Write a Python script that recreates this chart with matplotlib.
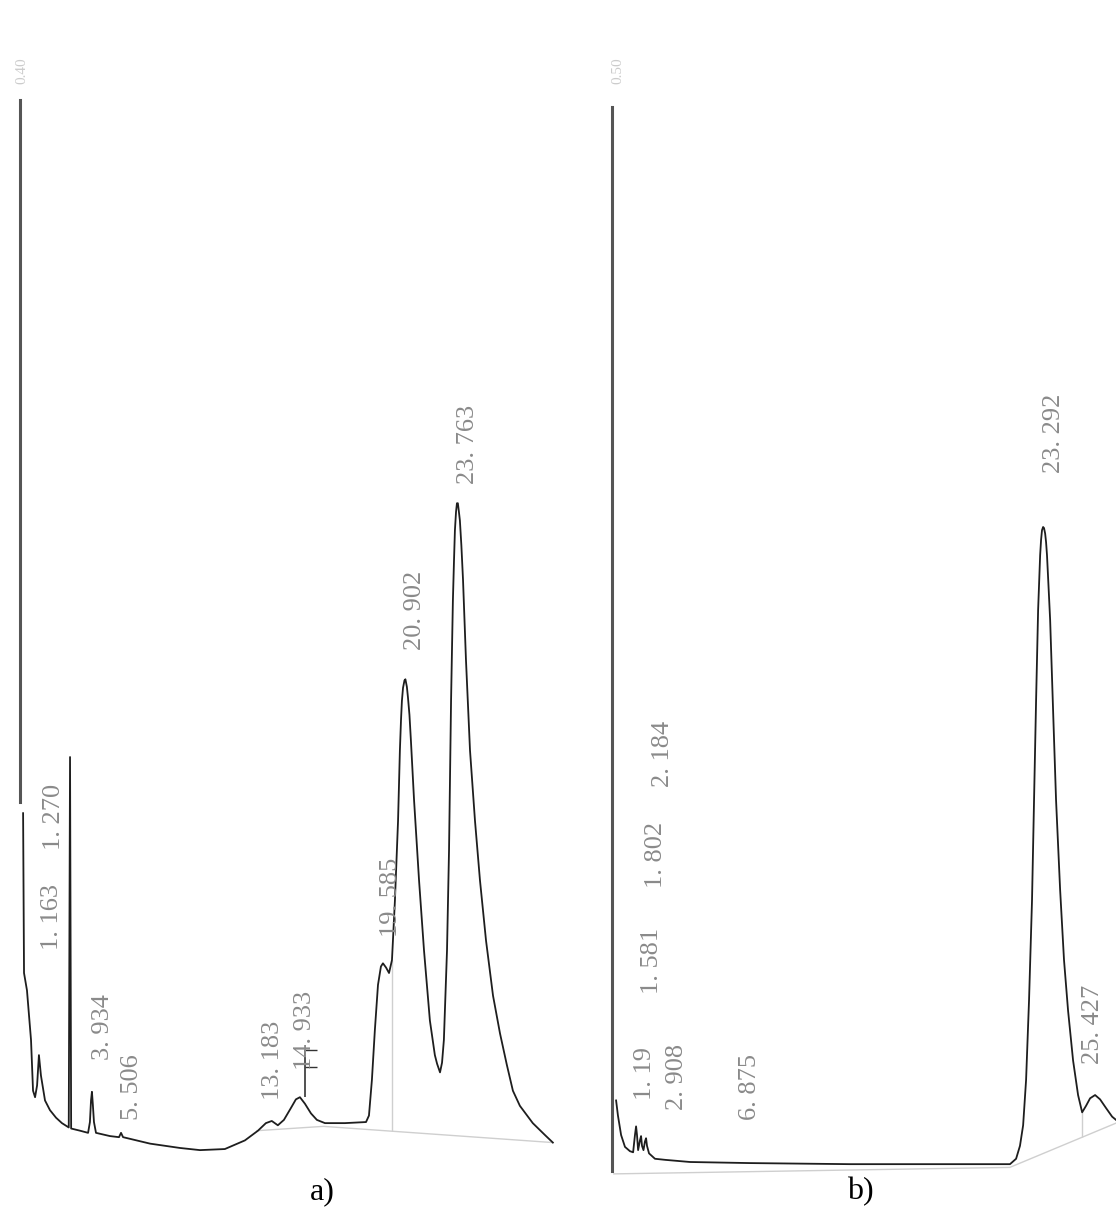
import matplotlib
matplotlib.use("Agg")
import matplotlib.pyplot as plt
import numpy as np

# Panel a) detector trace: time (min) and signal (% full scale)
a_time = [0.19, 0.24, 0.40, 0.62, 0.73, 0.84, 0.95, 1.05, 1.16, 1.38, 1.65, 1.98, 2.30,
          2.67, 2.74, 2.80, 3.28, 3.72, 3.82, 3.88, 3.93, 3.98, 4.04, 4.15, 4.91, 5.40,
          5.51, 5.62, 7.09, 8.71, 9.80, 11.15, 12.24, 12.95, 13.38, 13.70, 14.03, 14.36,
          14.74, 15.01, 15.23, 15.50, 15.83, 16.15, 16.59, 17.67, 18.82, 18.98, 19.14, 19.30,
          19.47, 19.63, 19.74, 19.91, 20.07, 20.23, 20.39, 20.56, 20.66, 20.72, 20.77, 20.83,
          20.91, 20.96, 21.04, 21.10, 21.18, 21.26, 21.43, 21.70, 21.97, 22.29, 22.56, 22.68,
          22.84, 22.95, 23.05, 23.22, 23.33, 23.44, 23.49, 23.54, 23.60, 23.65, 23.71, 23.76,
          23.81, 23.86, 23.92, 24.00, 24.09, 24.17, 24.25, 24.47, 24.74, 25.01, 25.34, 25.72,
          26.10, 26.47, 26.80, 27.18, 27.88, 28.54, 28.97]
a_signal = [34.0, 19.2, 17.6, 13.0, 8.3, 7.7, 8.8, 11.6, 9.7, 7.4, 6.5, 5.8, 5.3,
            4.9, 39.2, 4.8, 4.6, 4.4, 5.4, 7.4, 8.2, 7.0, 5.4, 4.4, 4.1, 4.0,
            4.4, 4.0, 3.4, 3.0, 2.8, 2.9, 3.7, 4.6, 5.3, 5.5, 5.1, 5.6,
            6.7, 7.5, 7.7, 7.1, 6.2, 5.6, 5.3, 5.3, 5.4, 6.0, 9.3, 13.9,
            18.1, 19.8, 20.1, 19.7, 19.2, 20.4, 25.9, 33.3, 39.8, 42.6, 44.4, 45.6,
            46.3, 46.4, 45.7, 44.7, 43.1, 40.7, 35.2, 27.8, 21.3, 14.8, 11.6, 10.8,
            10.0, 10.9, 13.0, 21.3, 30.6, 44.4, 49.1, 53.7, 57.4, 60.2, 61.9, 62.7,
            62.7, 62.0, 61.1, 58.8, 55.6, 51.9, 48.2, 39.8, 33.3, 27.8, 22.2, 17.1,
            13.6, 10.7, 8.3, 6.9, 5.3, 4.2, 3.5]
a_peaks = ["1.163", "1.270", "3.934", "5.506", "13.183", "14.933", "19.585", "20.902", "23.763"]
a_label_y = [21.3, 30.6, 11.1, 5.6, 7.4, 10.2, 22.5, 49.1, 64.5]
a_base_time = [12.9, 16.5, 28.97]
a_base_signal = [4.6, 5.0, 3.5]
a_drop_times = [20.23]

# Panel b) detector trace
b_time = [0.22, 0.32, 0.49, 0.70, 0.97, 1.14, 1.24, 1.30, 1.35, 1.41, 1.51, 1.57, 1.62,
          1.70, 1.78, 1.84, 1.89, 2.00, 2.32, 2.87, 4.22, 7.46, 12.87, 18.27, 21.51, 21.84,
          22.05, 22.22, 22.38, 22.54, 22.70, 22.81, 22.92, 23.03, 23.14, 23.19, 23.24, 23.30,
          23.35, 23.41, 23.46, 23.51, 23.59, 23.68, 23.84, 24.00, 24.22, 24.43, 24.65, 24.92,
          25.19, 25.41, 25.62, 25.84, 26.11, 26.38, 26.70, 27.03, 27.24]
b_signal = [7.4, 6.0, 4.2, 3.1, 2.7, 2.6, 4.2, 5.0, 4.2, 2.8, 3.7, 4.1, 3.2,
            2.8, 3.6, 3.9, 3.2, 2.5, 2.0, 1.9, 1.7, 1.6, 1.5, 1.5, 1.5, 2.0,
            3.2, 5.1, 9.3, 16.7, 25.9, 35.2, 44.4, 52.8, 57.9, 59.3, 60.2, 60.5,
            60.4, 59.9, 59.1, 57.9, 55.1, 51.9, 43.5, 35.2, 26.9, 20.4, 15.7, 11.1,
            7.9, 6.3, 6.9, 7.6, 7.9, 7.5, 6.7, 5.9, 5.6]
b_peaks = ["1.19", "1.581", "1.802", "2.184", "2.908", "6.875", "23.292", "25.427"]
b_label_y = [7.4, 17.3, 27.1, 36.4, 6.5, 5.6, 65.5, 10.8]
b_base_time = [0.1, 21.5, 27.24]
b_base_signal = [0.6, 1.2, 5.3]
b_drop_times = [25.41]

LABEL_GREY = "#8a8a8a"


def draw_panel(ax, t, s, peaks, label_y, base_t, base_s, drops, xlim, axis_span):
    ax.plot(base_t, base_s, color="#cfcfcf", lw=1.0)
    for d in drops:
        ax.vlines(d, np.interp(d, base_t, base_s), np.interp(d, t, s),
                  color="#cfcfcf", lw=1.0)
    ax.plot(t, s, color="#1e1e1e", lw=1.3)
    for lab, ly in zip(peaks, label_y):
        ax.text(float(lab), ly, lab.replace(".", ". "), rotation=90,
                ha="left", va="bottom", fontsize=19, color=LABEL_GREY,
                family="Liberation Serif")
    ax.set_xlim(*xlim)
    ax.set_ylim(-3.3, 109.3)
    for side in ["top", "right", "bottom"]:
        ax.spines[side].set_visible(False)
    ax.spines["left"].set_position(("data", 0))
    ax.spines["left"].set_bounds(axis_span[0], axis_span[1])
    ax.spines["left"].set_color("#555555")
    ax.spines["left"].set_linewidth(2.2)
    ax.set_xticks([])
    ax.set_yticks([])
    ax.patch.set_visible(False)


fig = plt.figure(figsize=(11.16, 12.16), dpi=100)
ax_a = fig.add_axes([0.0, 0.0, 0.5, 1.0])
ax_b = fig.add_axes([0.5, 0.0, 0.5, 1.0])

draw_panel(ax_a, a_time, a_signal, a_peaks, a_label_y, a_base_time, a_base_signal,
           a_drop_times, (-1.065, 29.25), (35.0, 100.0))
draw_panel(ax_b, b_time, b_signal, b_peaks, b_label_y, b_base_time, b_base_signal,
           b_drop_times, (-2.92, 27.24), (0.9, 99.4))

# integrator peak marker on the 14.933 peak
apex_t = a_time[int(np.argmax(np.where((np.array(a_time) > 14.5) & (np.array(a_time) < 16), a_signal, 0)))]
apex_s = np.interp(apex_t, a_time, a_signal)
ax_a.vlines(apex_t + 0.25, apex_s, apex_s + 4.4, color="#333333", lw=1.2)
ax_a.hlines([apex_s + 4.4, apex_s + 2.8], apex_t + 0.25, apex_t + 0.9, color="#333333", lw=1.0)

ax_a.text(0.1, 101.5, "0.40", rotation=90, ha="center", va="bottom", fontsize=11,
          color="#cccccc", family="Liberation Serif")
ax_b.text(0.3, 101.5, "0.50", rotation=90, ha="center", va="bottom", fontsize=11,
          color="#cccccc", family="Liberation Serif")

fig.text(322 / 1116, 0.02, "a)", ha="center", va="center", fontsize=23,
         family="Liberation Serif")
fig.text(860 / 1116, 0.02, "b)", ha="center", va="center", fontsize=23,
         family="Liberation Serif")

fig.savefig("out.png", dpi=100, facecolor="white")
